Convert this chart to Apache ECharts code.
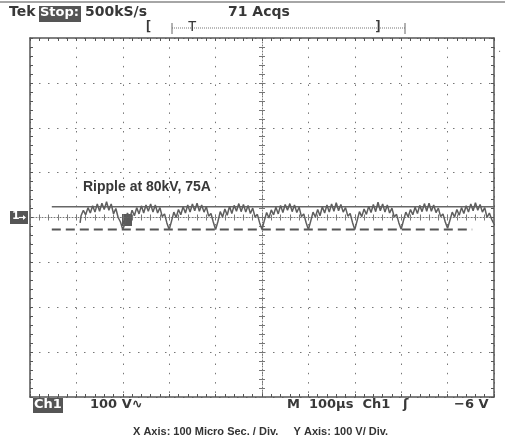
<!DOCTYPE html>
<html>
<head>
<meta charset="utf-8">
<script src="https://cdn.jsdelivr.net/npm/echarts@6/dist/echarts.min.js"></script>
<style>
html,body{margin:0;padding:0;background:#fff;}
#chart{width:505px;height:441px;}
</style>
</head>
<body>
<div id="chart"></div>
<script>
// ---- data (time in µs, voltage in V) ----
const traceTimes = [
108,110,115,120,125,130,135,140,145,150,155,160,165,170,175,180,185,190,195,200,
205,210,215,220,225,230,235,240,245,250,255,260,265,270,275,280,285,290,295,300,
305,310,315,320,325,330,335,340,345,350,355,360,365,370,375,380,385,390,395,400,
405,410,415,420,425,430,435,440,445,450,455,460,465,470,475,480,485,490,495,500,
505,510,515,520,525,530,535,540,545,550,555,560,565,570,575,580,585,590,595,600,
605,610,615,620,625,630,635,640,645,650,655,660,665,670,675,680,685,690,695,700,
705,710,715,720,725,730,735,740,745,750,755,760,765,770,775,780,785,790,795,800,
805,810,815,820,825,830,835,840,845,850,855,860,865,870,875,880,885,890,895,900,
905,910,915,920,925,930,935,940,945,950,955,960,965,970,975,980,985,990,995,1000
];
const traceVolts = [
-12,4,16,6,22,10,26,12,30,14,32,18,35,16,30,8,20,0,-10,-27,
-12,10,-2,16,4,22,8,26,10,28,14,30,12,28,10,22,2,8,-12,-27,
-8,12,0,18,6,24,10,28,12,30,15,32,14,28,12,24,3,9,-10,-27,
-9,13,1,19,5,25,9,27,14,31,13,29,12,27,9,21,1,7,-12,-27,
-7,11,-1,17,6,23,8,27,11,29,16,31,13,28,11,23,2,8,-11,-27,
-8,12,1,18,4,24,10,28,12,30,14,33,15,29,12,22,3,9,-11,-27,
-7,13,2,19,7,25,11,29,13,34,15,30,12,28,10,21,1,7,-12,-26,
-6,12,1,18,6,23,9,27,13,31,14,32,14,28,11,21,2,8,-10,-24,
-6,12,1,18,5,22,9,26,12,30,15,33,16,29,12,22,0,10,-4,-14
];
const solidCursorT = [47, 1000];
const solidCursorV = [24, 24];
const dashCursorT = [47, 953];
const dashCursorV = [-27, -27];
const xRange = [0, 1000];      // 10 div x 100 µs
const yRange = [-400, 400];    // 8 div x 100 V
const divX = 100, divY = 100;

const chart = echarts.init(document.getElementById('chart'), null, {renderer:'canvas'});
const gridC = '#777';
const frameC = '#555';
const txt = '#383838';

function mkX(pos, extra){
  return Object.assign({
    type:'value', min:xRange[0], max:xRange[1], interval:divX, position:pos,
    axisLabel:{show:false},
    axisLine:{show:true, onZero:false, lineStyle:{color:frameC, width:1.5}},
    axisTick:{show:true, inside:true, length:3, lineStyle:{color:frameC}},
    minorTick:{show:true, splitNumber:5, length:3, lineStyle:{color:frameC}},
    splitLine:{show:false}
  }, extra||{});
}
function mkY(pos, extra){
  return Object.assign({
    type:'value', min:yRange[0], max:yRange[1], interval:divY, position:pos,
    axisLabel:{show:false},
    axisLine:{show:true, onZero:false, lineStyle:{color:frameC, width:1.5}},
    axisTick:{show:true, inside:true, length:3, lineStyle:{color:frameC}},
    minorTick:{show:true, splitNumber:5, length:3, lineStyle:{color:frameC}},
    splitLine:{show:false}
  }, extra||{});
}
const centerLine = {show:true, onZero:false, lineStyle:{color:gridC, width:1, type:[1,2]}};
const centerTick = {show:true, length:3, lineStyle:{color:gridC}};

const option = {
  backgroundColor:'#fff',
  animation:false,
  grid:{left:30, right:11, top:38, bottom:44, containLabel:false},
  xAxis:[
    mkX('bottom', {splitLine:{show:true, lineStyle:{color:gridC, width:1, type:[1.5,7.8]}}}),
    mkX('top'),
    mkX('bottom', {offset:-179.5, axisLine:centerLine, axisTick:Object.assign({inside:true},centerTick), minorTick:{show:true, splitNumber:5, length:3, lineStyle:{color:gridC}}}),
    mkX('bottom', {offset:-179.5, axisLine:{show:false}, axisTick:Object.assign({inside:false},centerTick), minorTick:{show:true, splitNumber:5, length:3, lineStyle:{color:gridC}}})
  ],
  yAxis:[
    mkY('left', {splitLine:{show:true, lineStyle:{color:gridC, width:1, type:[1.5,7.5]}}}),
    mkY('right'),
    mkY('left', {offset:-232, axisLine:centerLine, axisTick:Object.assign({inside:true},centerTick), minorTick:{show:true, splitNumber:5, length:3, lineStyle:{color:gridC}}}),
    mkY('left', {offset:-232, axisLine:{show:false}, axisTick:Object.assign({inside:false},centerTick), minorTick:{show:true, splitNumber:5, length:3, lineStyle:{color:gridC}}})
  ],
  series:[
    {type:'line', name:'cursor1', xAxisIndex:0, yAxisIndex:0, symbol:'none', silent:true,
     data:solidCursorT.map((t,i)=>[t, solidCursorV[i]]),
     lineStyle:{color:'#666', width:1.5}},
    {type:'line', name:'cursor2', xAxisIndex:0, yAxisIndex:0, symbol:'none', silent:true,
     data:dashCursorT.map((t,i)=>[t, dashCursorV[i]]),
     lineStyle:{color:'#555', width:2, type:[9,5]}},
    {type:'line', name:'Ch1', xAxisIndex:0, yAxisIndex:0, symbol:'none', silent:true,
     data:traceTimes.map((t,i)=>[t, traceVolts[i]]),
     lineStyle:{color:'#5e5e5e', width:1.5}}
  ],
  graphic:[
    {type:'line', shape:{x1:0,y1:2,x2:505,y2:2}, style:{stroke:'#888', lineWidth:1.5}},
    {type:'text', left:9, top:5, style:{text:'Tek', font:'bold 14px "DejaVu Sans"', fill:txt}},
    {type:'rect', shape:{x:39,y:6,width:42,height:16}, style:{fill:'#555'}},
    {type:'text', left:40, top:6, style:{text:'Stop:', font:'bold 13px "DejaVu Sans"', fill:'#fff'}},
    {type:'text', left:85, top:5, style:{text:'500kS/s', font:'bold 14px "DejaVu Sans"', fill:txt}},
    {type:'text', left:228, top:5, style:{text:'71 Acqs', font:'bold 14px "DejaVu Sans"', fill:txt}},
    {type:'text', left:144, top:20, style:{text:'[', font:'bold 14px "DejaVu Sans Mono"', fill:txt}},
    {type:'line', shape:{x1:172,y1:28,x2:405,y2:28}, style:{stroke:'#777', lineWidth:1, lineDash:[1,1]}},
    {type:'line', shape:{x1:172,y1:23,x2:172,y2:34}, style:{stroke:'#666', lineWidth:1}},
    {type:'line', shape:{x1:405,y1:23,x2:405,y2:34}, style:{stroke:'#666', lineWidth:1}},
    {type:'text', left:188, top:20, style:{text:'T', font:'14px "DejaVu Sans Mono"', fill:txt}},
    {type:'text', left:374, top:20, style:{text:']', font:'bold 14px "DejaVu Sans Mono"', fill:txt}},
    {type:'text', left:498, top:44, style:{text:'.', font:'10px "DejaVu Sans"', fill:'#777'}},
    // channel marker
    {type:'rect', shape:{x:10,y:211,width:18,height:13}, style:{fill:'#555'}},
    {type:'text', left:12, top:211, style:{text:'1', font:'bold 11px "DejaVu Sans"', fill:'#fff'}},
    {type:'line', shape:{x1:19,y1:217.5,x2:25,y2:217.5}, style:{stroke:'#fff', lineWidth:1.2}},
    {type:'polygon', shape:{points:[[26,217.5],[23,215],[23,220]]}, style:{fill:'#fff'}},
    // trigger box on trace
    {type:'rect', shape:{x:122,y:214,width:10,height:12}, style:{fill:'#5a5a5a'}},
    {type:'text', left:83, top:180, style:{text:'Ripple at 80kV, 75A', font:'bold 14px "Liberation Sans"', fill:txt}},
    // bottom readout
    {type:'rect', shape:{x:33,y:398,width:30,height:15}, style:{fill:'#555'}},
    {type:'text', left:34, top:398, style:{text:'Ch1', font:'bold 13px "DejaVu Sans"', fill:'#fff'}},
    {type:'text', left:90, top:398, style:{text:'100 V∿', font:'bold 13px "DejaVu Sans"', fill:txt}},
    {type:'text', left:287, top:398, style:{text:'M  100µs  Ch1', font:'bold 13px "DejaVu Sans"', fill:txt}},
    {type:'text', left:403, top:398, style:{text:'ʃ', font:'bold 13px "DejaVu Sans"', fill:txt}},
    {type:'text', left:454, top:398, style:{text:'−6 V', font:'bold 13px "DejaVu Sans"', fill:txt}},
    {type:'text', left:133, top:426, style:{text:'X Axis: 100 Micro Sec. / Div.     Y Axis: 100 V/ Div.', font:'bold 11px "Liberation Sans"', fill:'#333'}}
  ]
};
chart.setOption(option);
</script>
</body>
</html>
